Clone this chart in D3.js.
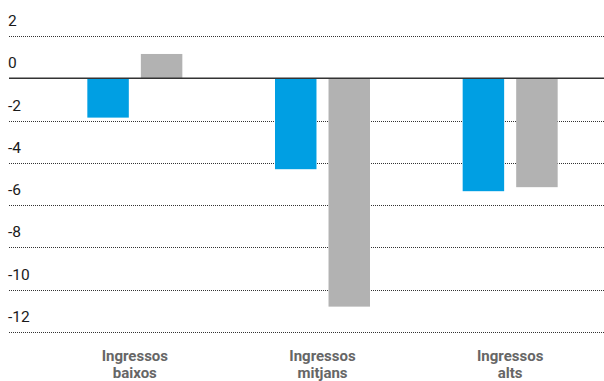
<!DOCTYPE html>
<html>
<head>
<meta charset="utf-8">
<script src="https://cdn.jsdelivr.net/npm/d3@7"></script>
<style>
  body { margin: 0; background: #fff; }
  svg { display: block; }
</style>
</head>
<body>
<svg id="chart" width="604" height="381"></svg>
<script>
  // data
  let categories = ["Ingressos baixos", "Ingressos mitjans", "Ingressos alts"];
  let seriesNames = ["s1", "s2"];
  let blueValues = [-1.86, -4.3, -5.34];
  let grayValues = [1.15, -10.8, -5.15];
  let yTicks = [2, 0, -2, -4, -6, -8, -10, -12];

  let colors = { s1: "#009fe3", s2: "#b2b2b2" };

  let svg = d3.select("svg#chart");
  let width = +svg.attr("width");

  let rows = categories.map((c, i) => ({ cat: c, s1: blueValues[i], s2: grayValues[i] }));

  // scales
  let y = d3.scaleLinear().domain([-12, 2]).range([332, 36]);
  let x0 = d3.scaleBand().domain(categories).range([41, width]).paddingInner(0);
  let groupW = 95;
  let x1 = d3.scaleBand().domain(seriesNames).range([0, groupW]).paddingInner(0.225);

  // dotted gridlines + labels
  let grid = svg.append("g");
  yTicks.forEach(t => {
    if (t !== 0) {
      grid.append("line")
        .attr("x1", 9).attr("x2", width)
        .attr("y1", Math.round(y(t)) + 0.5).attr("y2", Math.round(y(t)) + 0.5)
        .attr("stroke", "#333")
        .attr("stroke-width", 1)
        .attr("stroke-dasharray", "1,1");
    }
    grid.append("text")
      .attr("x", 8)
      .attr("y", y(t) - 10)
      .attr("font-family", "Roboto, 'Liberation Sans', sans-serif")
      .attr("font-size", 15.5)
      .attr("fill", "#1a1a1a")
      .text(t);
  });

  // bars
  let groups = svg.append("g").selectAll("g")
    .data(rows)
    .join("g")
    .attr("transform", d => "translate(" + (x0(d.cat) + (x0.bandwidth() - groupW) / 2) + ",0)");

  groups.selectAll("rect")
    .data(d => seriesNames.map(k => ({ key: k, value: d[k] })))
    .join("rect")
    .attr("x", d => x1(d.key))
    .attr("width", x1.bandwidth())
    .attr("y", d => y(Math.max(0, d.value)))
    .attr("height", d => Math.abs(y(d.value) - y(0)))
    .attr("fill", d => colors[d.key]);

  // zero line
  svg.append("line")
    .attr("x1", 9).attr("x2", width)
    .attr("y1", y(0)).attr("y2", y(0))
    .attr("stroke", "#333")
    .attr("stroke-width", 1.4);

  // category labels, two lines
  let labels = svg.append("g").selectAll("text")
    .data(categories)
    .join("text")
    .attr("x", d => x0(d) + x0.bandwidth() / 2)
    .attr("y", 361)
    .attr("text-anchor", "middle")
    .attr("font-family", "Roboto, 'Liberation Sans', sans-serif")
    .attr("font-weight", "bold")
    .attr("font-size", 15)
    .attr("fill", "#666");

  labels.each(function(d) {
    let parts = d.split(" ");
    let t = d3.select(this);
    parts.forEach((p, i) => {
      t.append("tspan")
        .attr("x", x0(d) + x0.bandwidth() / 2)
        .attr("dy", i === 0 ? 0 : 16.5)
        .text(p);
    });
  });
</script>
</body>
</html>
